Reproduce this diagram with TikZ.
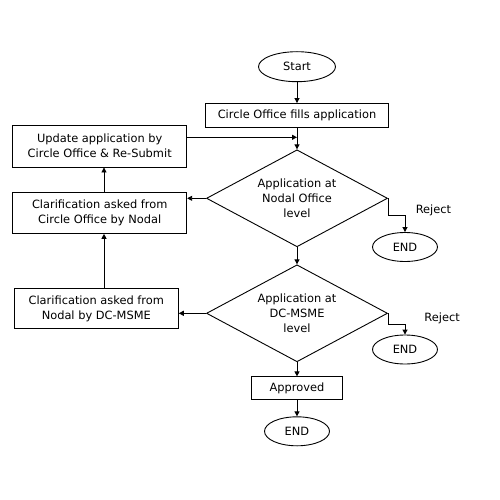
\documentclass[tikz,border=0pt]{standalone}
\usepackage{fontspec}
\setmainfont{DejaVu Sans}
\usetikzlibrary{arrows.meta,shapes.geometric}

\begin{document}
\begin{tikzpicture}[x=1pt,y=-1pt,line width=0.9pt,
	every node/.style={font=\fontsize{11.4}{15}\selectfont,align=center},
	box/.style={draw,rectangle,inner sep=0pt},
	term/.style={draw,ellipse,inner sep=0pt,minimum width=65pt,minimum height=29pt},
	dec/.style={draw,diamond,inner sep=0pt,shape aspect=1.88,minimum width=181pt,minimum height=97pt},
	arr/.style={-{Triangle[length=5pt,width=5pt]}}]
				\useasboundingbox (0,0) rectangle (500,500);
				\coordinate (col) at (104,0);
				\node[term,minimum width=77pt,minimum height=30pt] (start) at (297,66.7) {Start};
				\node[box,minimum width=183pt,minimum height=24pt] (fill) at (297,115.5) {Circle Office fills application};
				\node[box,minimum width=174pt,minimum height=42pt] (update) at (99.7,146) {Update application by\\Circle Office \& Re-Submit};
				\node[dec] (nodal) at (297,198.3) {Application at\\Nodal Office\\level};
				\node[box,minimum width=174pt,minimum height=40.7pt] (clarnodal) at (99.7,213) {Clarification asked from\\Circle Office by Nodal};
				\node[term] (end1) at (405,247) {END};
				\node[anchor=west] (reject1) at (412,210.7) {Reject};
				\node[dec] (msme) at (297,313.3) {Application at\\DC-MSME\\level};
				\node[box,minimum width=164pt,minimum height=40pt] (clarmsme) at (96.3,308.5) {Clarification asked from\\Nodal by DC-MSME};
				\node[term] (end2) at (405,349.5) {END};
				\node[anchor=west] (reject2) at (420.7,318.3) {Reject};
				\node[box,minimum width=90.7pt,minimum height=22.3pt] (approved) at (297,388) {Approved};
				\node[term] (end3) at (297,431.3) {END};
				\coordinate (resub) at ([yshift=8.7pt]update.east);
				\draw[arr] (start) -- (fill);
				\draw[arr] (fill) -- (nodal);
				\draw[arr] (resub) -- (resub -| fill.south);
				\draw[arr] (nodal.west) -- (nodal.west -| clarnodal.east);
				\draw[arr] (clarnodal.north -| col) -- (update.south -| col);
				\draw[arr] (nodal.east) -- ++(0,16.7) -| (end1.north);
				\draw[arr] (nodal) -- (msme);
				\draw[arr] (msme.west) -- (msme.west -| clarmsme.east);
				\draw[arr] (clarmsme.north -| col) -- (clarnodal.south -| col);
				\draw[arr] (msme.east) -- ++(0,10.7) -| (end2.north);
				\draw[arr] (msme) -- (approved);
				\draw[arr] (approved) -- (end3);
				\end{tikzpicture}
\end{document}
